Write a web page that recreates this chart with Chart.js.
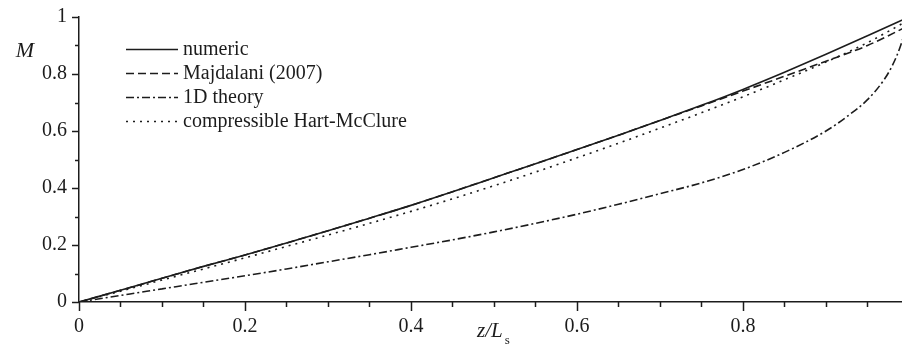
<!DOCTYPE html>
<html>
<head>
<meta charset="utf-8">
<script src="https://cdn.jsdelivr.net/npm/chart.js@4/dist/chart.umd.min.js"></script>
<style>
  html, body { margin: 0; padding: 0; background: #fff; overflow: hidden; }
</style>
</head>
<body>
<canvas id="chart" width="902" height="347"></canvas>
<script>
// axial position z/Ls
const zValues = [0, 0.05, 0.1, 0.15, 0.2, 0.25, 0.3, 0.35, 0.4, 0.45, 0.5,
                 0.55, 0.6, 0.65, 0.7, 0.75, 0.8, 0.85, 0.9, 0.95, 1.0];
const numericM = [0, 0.041, 0.083, 0.125, 0.165, 0.207, 0.25, 0.294, 0.339, 0.387, 0.436,
                  0.485, 0.535, 0.585, 0.637, 0.69, 0.746, 0.806, 0.869, 0.934, 1.0];
const majdalaniM = [0, 0.041, 0.083, 0.125, 0.165, 0.207, 0.25, 0.294, 0.339, 0.387, 0.436,
                    0.485, 0.535, 0.585, 0.637, 0.688, 0.74, 0.792, 0.845, 0.9, 0.97];
const hartMcClureM = [0, 0.038, 0.077, 0.116, 0.155, 0.195, 0.235, 0.276, 0.318, 0.362, 0.408,
                      0.456, 0.506, 0.557, 0.61, 0.664, 0.72, 0.78, 0.842, 0.91, 0.99];
// 1D theory needs more points close to the exit
const zValues1D = [0, 0.05, 0.1, 0.15, 0.2, 0.25, 0.3, 0.35, 0.4, 0.45, 0.5,
                   0.55, 0.6, 0.65, 0.7, 0.75, 0.8, 0.85, 0.9, 0.925, 0.95, 0.97, 0.98, 0.99, 1.0];
const theory1DM = [0, 0.023, 0.046, 0.069, 0.092, 0.116, 0.141, 0.166, 0.192, 0.218, 0.246,
                   0.276, 0.308, 0.343, 0.38, 0.418, 0.465, 0.525, 0.6, 0.65, 0.71, 0.78, 0.83, 0.9, 1.0];

const seriesNames = ["numeric", "Majdalani (2007)", "1D theory", "compressible Hart-McClure"];

const xTicks = [0, 0.05, 0.1, 0.15, 0.2, 0.25, 0.3, 0.35, 0.4, 0.45, 0.5,
                0.55, 0.6, 0.65, 0.7, 0.75, 0.8, 0.85, 0.9, 0.95];
const xLabelTicks = [0, 0.2, 0.4, 0.6, 0.8];
const yTicks = [0, 0.1, 0.2, 0.3, 0.4, 0.5, 0.6, 0.7, 0.8, 0.9, 1.0];
const yLabelTicks = [0, 0.2, 0.4, 0.6, 0.8, 1.0];

const ink = '#1c1c1c';
const serif = '"Liberation Serif", "Times New Roman", serif';

const toPoints = (xs, ys) => xs.map((x, i) => ({x: x, y: ys[i]}));
const isIn = (list, v) => list.some(t => Math.abs(t - v) < 1e-6);
const fmt = v => String(Number(v.toFixed(2)));

const lineStyles = [
    {dash: []},
    {dash: [8, 4]},
    {dash: [8, 3, 2, 3]},
    {dash: [2, 5]}
];

const datasets = [
    toPoints(zValues, numericM),
    toPoints(zValues, majdalaniM),
    toPoints(zValues1D, theory1DM),
    toPoints(zValues, hartMcClureM)
].map((pts, i) => ({
    label: seriesNames[i],
    data: pts,
    showLine: true,
    borderColor: ink,
    borderWidth: 1.6,
    borderDash: lineStyles[i].dash,
    pointRadius: 0,
    cubicInterpolationMode: 'monotone',
    fill: false
}));

// ticks of two lengths, legend and axis titles
const decorations = {
    id: 'decorations',
    afterDraw(chart) {
        const ctx = chart.ctx;
        const xs = chart.scales.x;
        const ys = chart.scales.y;
        const area = chart.chartArea;
        ctx.save();
        ctx.strokeStyle = ink;
        ctx.lineWidth = 1.5;
        ctx.setLineDash([]);
        xTicks.forEach(v => {
            const px = Math.round(xs.getPixelForValue(v)) + 0.5;
            const len = isIn(xLabelTicks, v) ? 9 : 5;
            ctx.beginPath();
            ctx.moveTo(px, area.bottom);
            ctx.lineTo(px, area.bottom + len);
            ctx.stroke();
        });
        yTicks.forEach(v => {
            const py = Math.round(ys.getPixelForValue(v)) + 0.5;
            const len = isIn(yLabelTicks, v) ? 7 : 4;
            ctx.beginPath();
            ctx.moveTo(area.left, py);
            ctx.lineTo(area.left - len, py);
            ctx.stroke();
        });

        // legend
        ctx.font = '20px ' + serif;
        ctx.fillStyle = ink;
        ctx.textBaseline = 'middle';
        chart.data.datasets.forEach((ds, i) => {
            const y = 49 + i * 24;
            ctx.setLineDash(ds.borderDash);
            ctx.lineWidth = ds.borderWidth;
            ctx.beginPath();
            ctx.moveTo(126, y + 0.5);
            ctx.lineTo(178, y + 0.5);
            ctx.stroke();
            ctx.setLineDash([]);
            ctx.fillText(ds.label, 183, y + 1);
        });

        // axis titles
        ctx.textBaseline = 'alphabetic';
        ctx.font = 'italic 22px ' + serif;
        ctx.textAlign = 'center';
        ctx.fillText('M', 25, 57);
        ctx.textAlign = 'left';
        ctx.font = 'italic 21px ' + serif;
        ctx.fillText('z/L', 477, 337);
        const w = ctx.measureText('z/L').width;
        ctx.font = '13px ' + serif;
        ctx.fillText('s', 477 + w + 2, 344);
        ctx.restore();
    }
};

new Chart(document.getElementById('chart'), {
    type: 'scatter',
    data: {datasets: datasets},
    options: {
        responsive: false,
        animation: false,
        layout: {padding: {top: 15, right: 0, left: 0, bottom: 0}},
        plugins: {
            legend: {display: false},
            tooltip: {enabled: false}
        },
        scales: {
            x: {
                type: 'linear',
                min: 0,
                max: 0.9916,
                afterBuildTicks: scale => { scale.ticks = xTicks.map(v => ({value: v})); },
                afterFit: scale => { scale.height = 45; },
                grid: {display: true, drawOnChartArea: false, tickLength: 9, tickColor: 'rgba(0,0,0,0)'},
                border: {display: true, color: ink, width: 1.5},
                ticks: {
                    autoSkip: false,
                    maxRotation: 0,
                    padding: 4,
                    color: ink,
                    font: {family: serif, size: 20},
                    callback: v => isIn(xLabelTicks, v) ? fmt(v) : ''
                }
            },
            y: {
                type: 'linear',
                min: 0,
                max: 1,
                afterBuildTicks: scale => { scale.ticks = yTicks.map(v => ({value: v})); },
                afterFit: scale => { scale.width = 79; },
                grid: {display: true, drawOnChartArea: false, tickLength: 7, tickColor: 'rgba(0,0,0,0)'},
                border: {display: true, color: ink, width: 1.5},
                ticks: {
                    autoSkip: false,
                    padding: 5,
                    color: ink,
                    font: {family: serif, size: 20},
                    callback: v => isIn(yLabelTicks, v) ? fmt(v) : ''
                }
            }
        }
    },
    plugins: [decorations]
});
</script>
</body>
</html>
